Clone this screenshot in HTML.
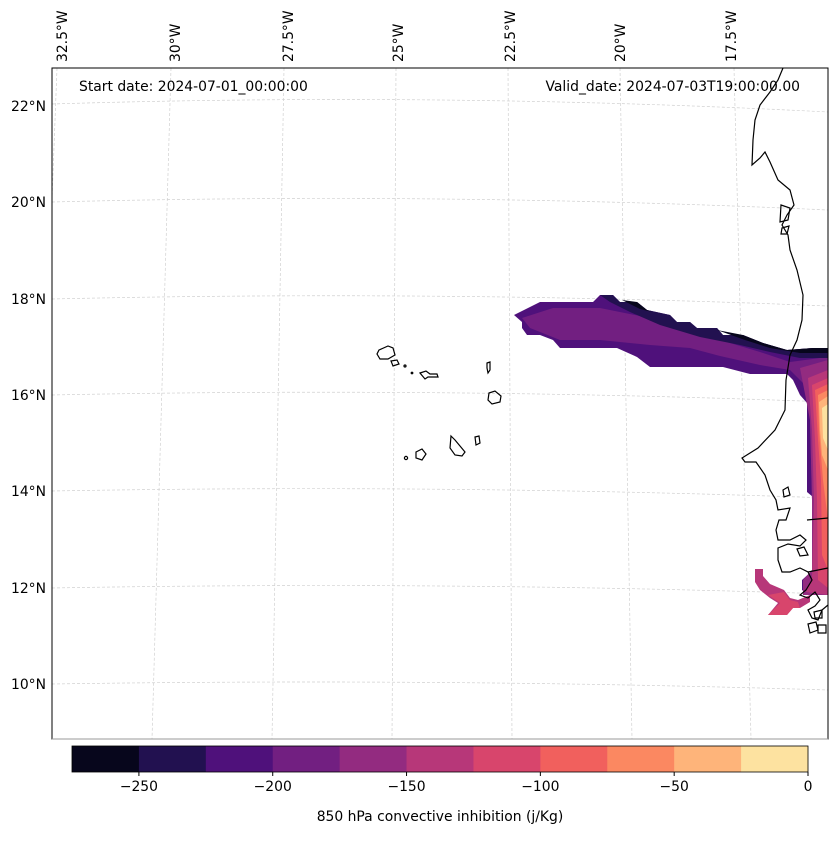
<!DOCTYPE html>
<html><head><meta charset="utf-8"><style>
body{margin:0;background:#fff;font-family:"Liberation Sans","DejaVu Sans",sans-serif}
svg text{font-family:"DejaVu Sans","Liberation Sans",sans-serif;font-size:13.9px;fill:#000}
</style></head><body>
<svg id="chart" width="837" height="836" viewBox="0 0 837 836">
<rect width="837" height="836" fill="#fff"/>
<g id="grid" stroke="#d0d0d0" stroke-width="0.7" stroke-dasharray="3,2" fill="none">
<path d="M52,104 Q440,92 828,112"/><path d="M52,202 Q440,192 828,210"/><path d="M52,299 Q440,290 828,306"/>
<path d="M52,395 Q440,387 828,402"/><path d="M52,491 Q440,484 828,498"/><path d="M52,588 Q440,581 828,594"/>
<path d="M52,684 Q440,678 828,690"/>
<path d="M57,68 L52,200"/><path d="M171,68 L152,739"/><path d="M284,68 L272,739"/><path d="M396,68 L392,739"/>
<path d="M508,68 L512,739"/><path d="M620,68 L632,739"/><path d="M734,68 L751,739"/>
</g>
<g id="contours">
<path fill="#4f117b" d="M514,315 L540,302 L593,302 L600,295 L613,295 L620,302 L637,302 L647,310 L670,315 L677,322 L690,322 L697,328 L717,328 L723,335 L743,335 L763,343 L787,350 L813,348 L828,348 L828,595 L810,595 L802,590 L802,580 L813,570 L813,497 L807,492 L807,403 L800,395 L793,380 L787,374 L750,374 L723,367 L650,367 L637,357 L617,348 L560,348 L553,340 L540,335 L527,335 L522,328 L522,322 Z"/>
<path fill="#721f81" d="M522,318 L553,308 L600,308 L640,316 L680,330 L720,340 L760,352 L790,362 L820,358 L828,356 L828,590 L812,590 L812,500 L810,420 L805,385 L790,370 L760,365 L720,356 L690,348 L650,345 L600,340 L560,340 L530,328 Z"/>
<path fill="#221150" d="M600,295 L613,295 L620,302 L637,302 L647,310 L670,315 L677,322 L690,322 L697,328 L717,328 L723,335 L743,335 L763,343 L787,350 L813,348 L828,348 L828,358 L800,358 L770,352 L740,345 L700,337 L660,325 L630,312 L610,302 Z"/>
<path fill="#07061c" d="M622,300 L637,302 L647,310 L652,312 L640,309 Z M717,330 L743,335 L763,343 L787,350 L813,348 L828,348 L828,353 L800,353 L770,348 L745,340 Z"/>
<path fill="#932b80" d="M800,368 L828,360 L828,595 L803,595 L803,580 L812,570 L812,500 L810,420 Z"/>
<path fill="#b73779" d="M808,378 L828,370 L828,595 L806,592 L812,578 L814,500 L812,430 Z"/>
<path fill="#d8456c" d="M812,385 L828,378 L828,588 L818,580 L817,500 L815,440 Z"/>
<path fill="#f1605d" d="M815,390 L828,384 L828,570 L822,555 L821,480 L818,440 Z"/>
<path fill="#fb8861" d="M818,395 L828,390 L828,520 L823,480 L819,430 Z"/>
<path fill="#feb47a" d="M819,402 L828,396 L828,470 L822,455 L820,430 Z"/>
<path fill="#fde2a0" d="M822,408 L828,404 L828,450 L823,438 Z"/>
<path fill="#b73779" d="M755,569 L763,569 L763,576 L770,584 L784,590 L790,598 L798,600 L810,595 L810,602 L800,608 L793,608 L787,615 L768,615 L778,603 L770,598 L760,590 L755,582 Z"/>
<path fill="#d8456c" d="M768,595 L784,592 L790,600 L798,602 L800,608 L793,608 L787,615 L768,615 L780,603 Z"/>
</g>
<g id="coast" fill="none" stroke="#000" stroke-width="1.2">
<path d="M783,68 L778,80 L770,92 L760,105 L755,120 L753,140 L752,165 L760,158 L765,152 L770,162 L778,180 L790,190 L794,205 L787,215 L782,225 L788,235 L790,250 L797,270 L803,295 L802,320 L797,340 L790,355 L786,380 L785,410 L775,430 L758,448 L742,458 L745,462 L756,462 L765,475 L770,490 L776,500 L778,510 L790,508 L786,520 L779,520 L776,530 L778,540 L790,540 L800,535 L806,540 L800,546 L788,544 L778,548 L778,560 L782,572 L790,572 L800,568 L808,572 L812,580 L806,590 L800,595 L808,598 L815,592 L820,600 L815,606 L808,610 L812,618 L818,620 L822,610 L828,605"/>
<path d="M807,520 L828,518"/><path d="M808,572 L828,568"/>
<path d="M797,549 L804,547 L808,555 L800,556 Z"/>
<path d="M783,490 L788,487 L790,495 L784,497 Z"/>
<path d="M808,624 L816,622 L818,630 L810,633 Z"/><path d="M814,612 L822,610 L822,618 L815,618 Z"/><path d="M818,625 L826,625 L826,633 L818,633 Z"/>
<path d="M781,205 L790,208 L788,220 L780,222 Z"/><path d="M782,228 L789,226 L787,234 L781,234 Z"/>
</g>
<g id="islands" fill="none" stroke="#000" stroke-width="1.2">
<path d="M379,350 L388,346 L393,348 L395,355 L388,359 L380,359 L377,354 Z"/>
<path d="M391,361 L397,360 L399,364 L393,366 Z"/>
<circle cx="405" cy="366" r="1"/><circle cx="412" cy="373" r="0.8"/>
<path d="M420,373 L426,371 L430,374 L437,374 L438,377 L428,377 L425,379 Z"/>
<path d="M487,363 L490,362 L490,370 L488,373 L487,368 Z"/>
<path d="M489,393 L495,391 L501,396 L500,402 L492,404 L488,400 Z"/>
<path d="M451,436 L455,440 L460,446 L465,452 L462,456 L455,455 L450,448 Z"/>
<path d="M475,437 L479,436 L480,443 L476,445 Z"/>
<path d="M416,452 L422,449 L426,454 L422,460 L416,458 Z"/>
<circle cx="406" cy="458" r="1.6"/>
</g>
<rect x="52" y="68" width="776" height="671" fill="none" stroke="#000" stroke-width="1"/>
<line x1="52" y1="739" x2="828" y2="739" stroke="#999" stroke-width="1"/>
<text x="79" y="91">Start date: 2024-07-01_00:00:00</text>
<text x="800" y="91" text-anchor="end">Valid_date: 2024-07-03T19:00:00.00</text>
<g id="latlabels"></g>
<g id="lonlabels"></g>
<g id="colorbar"></g>
<text x="440" y="821" text-anchor="middle">850 hPa convective inhibition (j/Kg)</text>
</svg>
<script>
const cbColors=["#07061c","#221150","#4f117b","#721f81","#932b80","#b73779","#d8456c","#f1605d","#fb8861","#feb47a","#fde2a0"];
const cbLevels=[-275,-250,-225,-200,-175,-150,-125,-100,-75,-50,-25,0];
const cbTicks=[-250,-200,-150,-100,-50,0];
const latLabels=["22°N","20°N","18°N","16°N","14°N","12°N","10°N"];
const latY=[106,202,299,395,491,588,684];
const lonLabels=["32.5°W","30°W","27.5°W","25°W","22.5°W","20°W","17.5°W"];
const lonX=[62,175,288,398,510,620,731];
const NS="http://www.w3.org/2000/svg";
const cb=document.getElementById('colorbar');
const x0=72,x1=808,y0=746,h=26;
const sx=v=>x0+(v-cbLevels[0])/(cbLevels[cbLevels.length-1]-cbLevels[0])*(x1-x0);
cbColors.forEach((c,i)=>{const r=document.createElementNS(NS,'rect');
r.setAttribute('x',sx(cbLevels[i]));r.setAttribute('y',y0);r.setAttribute('width',sx(cbLevels[i+1])-sx(cbLevels[i])+0.5);r.setAttribute('height',h);r.setAttribute('fill',c);


cb.appendChild(r);});
const fr=document.createElementNS(NS,'rect');fr.setAttribute('x',x0);fr.setAttribute('y',y0);fr.setAttribute('width',x1-x0);fr.setAttribute('height',h);fr.setAttribute('fill','none');fr.setAttribute('stroke','#000');fr.setAttribute('stroke-width','0.8');cb.appendChild(fr);
cbTicks.forEach(t=>{const l=document.createElementNS(NS,'line');l.setAttribute('x1',sx(t));l.setAttribute('x2',sx(t));l.setAttribute('y1',y0+h);l.setAttribute('y2',y0+h+4);l.setAttribute('stroke','#000');cb.appendChild(l);
const tx=document.createElementNS(NS,'text');tx.setAttribute('x',sx(t));tx.setAttribute('y',y0+h+19);tx.setAttribute('text-anchor','middle');tx.textContent=t<0?'\u2212'+(-t):t;


cb.appendChild(tx);});
const la=document.getElementById('latlabels');
latLabels.forEach((s,i)=>{const t=document.createElementNS(NS,'text');t.setAttribute('x',46);t.setAttribute('y',latY[i]+5);t.setAttribute('text-anchor','end');t.textContent=s;


la.appendChild(t);});
const lo=document.getElementById('lonlabels');
lonLabels.forEach((s,i)=>{const t=document.createElementNS(NS,'text');t.setAttribute('transform','translate('+(lonX[i]+5)+',62) rotate(-90)');t.textContent=s;


lo.appendChild(t);});
</script>
</body></html>
